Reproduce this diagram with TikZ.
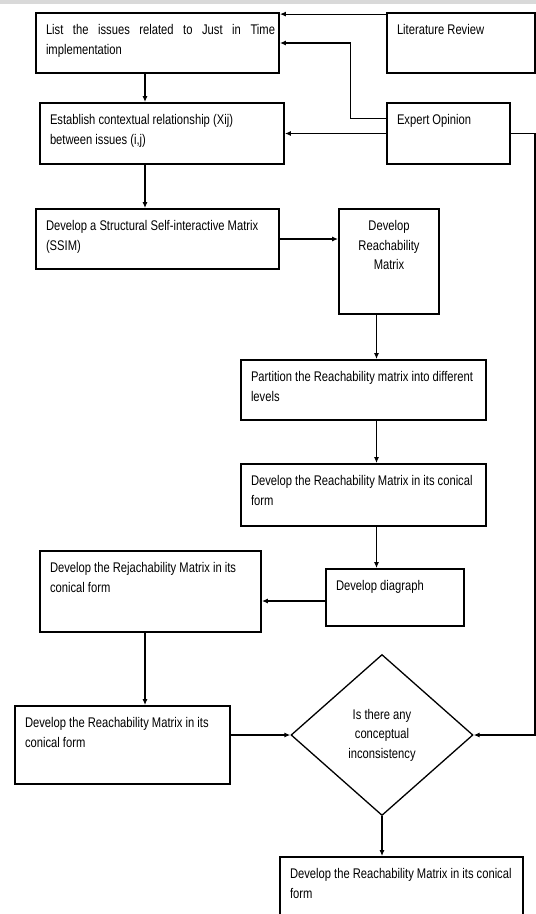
\documentclass[tikz,border=0pt]{standalone}
\usepackage{fontspec}
\setmainfont[FakeStretch=0.8]{Liberation Sans}
\usetikzlibrary{arrows.meta,shapes.geometric}

\newcommand{\boxtext}[3]{\parbox[c][#2pt][t]{#1pt}{\vspace{11.5pt}\hyphenpenalty=10000\leftskip=10pt\rightskip=4pt #3}}

\tikzset{
  procbox/.style={draw, line width=1.8pt, inner sep=0pt},
  decbox/.style={draw, diamond, line width=1.3pt, inner sep=0pt, align=center,
    minimum width=182pt, minimum height=161pt},
  arr/.style={-{Latex[length=6pt,width=5pt]}, line width=1.2pt}
}

\begin{document}
\begin{tikzpicture}[x=1pt,y=-1pt,font=\fontsize{14}{19.5}\selectfont]
    \useasboundingbox (0,0) rectangle (536,914);
    \fill[gray!30] (0,0) rectangle (536,4);
    \coordinate (spineL) at (145,0);
    \coordinate (spineR) at (376.5,0);

    \node[procbox] (list) at (157.5,43) {\boxtext{243}{60}{List the issues related to Just in Time\linebreak implementation}};
    \node[procbox] (lit) at (461,43) {\boxtext{148}{60}{Literature Review}};
    \node[procbox] (expert) at (448.5,133.5) {\boxtext{123}{61}{Expert Opinion}};
    \node[procbox] (relation) at (162,133.5) {\boxtext{244}{61}{Establish contextual relationship (Xij)\\between issues (i,j)}};
    \node[procbox] (ssim) at (157.5,239) {\boxtext{243}{60}{Develop a Structural Self-interactive Matrix\\(SSIM)}};
    \node[procbox] (reach) at (389,261.5) {\boxtext{100}{105}{\centering Develop\\Reachability\\Matrix}};
    \node[procbox] (partition) at (363.5,390) {\boxtext{245}{60}{Partition the Reachability matrix into different\\levels}};
    \node[procbox] (conical) at (363.5,495) {\boxtext{245}{62}{Develop the Reachability Matrix in its conical\\form}};
    \node[procbox] (digraph) at (395,597.5) {\boxtext{138}{57}{Develop diagraph}};
    \node[procbox] (rej) at (150.5,591.5) {\boxtext{221}{81}{Develop the Rejachability Matrix in its\\conical form}};
    \node[procbox] (formL) at (122.5,745) {\boxtext{215}{78}{Develop the Reachability Matrix in its\\conical form}};
    \node[decbox] (check) at (382,735) {Is there any\\conceptual\\inconsistency};
    \node[procbox] (final) at (401.5,888) {\boxtext{243}{62}{Develop the Reachability Matrix in its conical\\form}};

    \draw[arr] ([yshift=-2pt]lit.north west) -- ([yshift=-2pt]list.north east);
    \draw[arr] ([yshift=15pt]expert.west) -- ++(-36,0) |- (list.east);
    \draw[arr] (expert.west) -- (relation.east);
    \draw[arr] (expert.east) -- ++(24,0) |- (check.east);
    \draw[arr] (list.south -| spineL) -- (relation.north -| spineL);
    \draw[arr] (relation.south -| spineL) -- (ssim.north -| spineL);
    \draw[arr] (ssim.east) -- (ssim.east -| reach.west);
    \draw[arr] (reach.south -| spineR) -- (partition.north -| spineR);
    \draw[arr] (partition.south -| spineR) -- (conical.north -| spineR);
    \draw[arr] (conical.south -| spineR) -- (digraph.north -| spineR);
    \draw[arr] ([yshift=-3.5pt]digraph.west) -- ([yshift=-3.5pt]digraph.west -| rej.east);
    \draw[arr] (rej.south -| spineL) -- (formL.north -| spineL);
    \draw[arr] (formL.east |- check.west) -- (check.west);
    \draw[arr] (check.south) -- (check.south |- final.north);
\end{tikzpicture}
\end{document}
